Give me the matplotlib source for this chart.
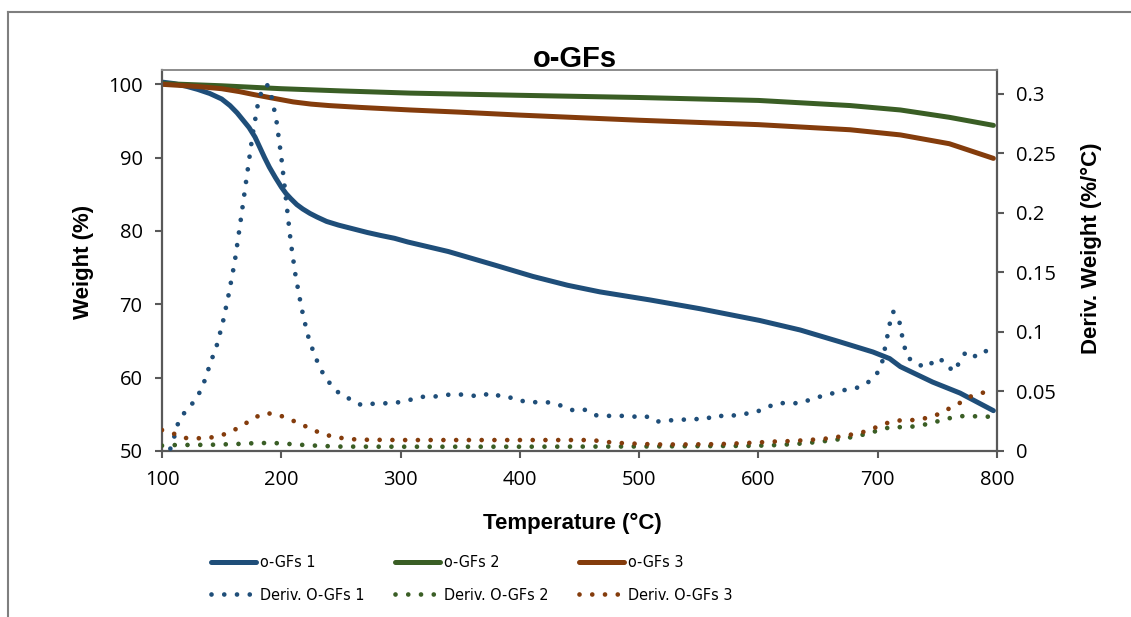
import matplotlib
matplotlib.use("Agg")
import matplotlib.pyplot as plt
from matplotlib.lines import Line2D
from matplotlib.ticker import FuncFormatter
import matplotlib.font_manager as fm

# ---------------- data ----------------
title = "o-GFs"
x_label = "Temperature (°C)"
y_label = "Weight (%)"
y2_label = "Deriv. Weight (%/°C)"

x_ticks = [100, 200, 300, 400, 500, 600, 700, 800]
y_ticks = [50, 60, 70, 80, 90, 100]
y2_ticks = [0, 0.05, 0.1, 0.15, 0.2, 0.25, 0.3]

# Weight curves
t_w1 = [100, 110, 120, 130, 140, 150, 157, 163, 168, 173, 178, 182, 186, 190, 195, 200, 204, 208,
        213, 218, 224, 230, 238, 248, 260, 272, 283, 295, 306, 340, 380, 411, 440, 467, 509, 551,
        601, 635, 668, 696, 710, 719, 746, 769, 797]
w1 = [100.3, 100.1, 99.75, 99.3, 98.75, 98.0, 97.1, 96.1, 95.1, 94.1, 92.8, 91.4, 90.0, 88.7, 87.3,
      86.0, 85.1, 84.4, 83.6, 83.0, 82.4, 81.9, 81.3, 80.8, 80.3, 79.8, 79.4, 79.0, 78.5, 77.2,
      75.3, 73.8, 72.6, 71.7, 70.6, 69.4, 67.8, 66.5, 64.9, 63.5, 62.6, 61.5, 59.4, 57.9, 55.5]

t_w2 = [100, 150, 200, 250, 308, 400, 500, 600, 677, 719, 760, 797]
w2 = [100.1, 99.8, 99.4, 99.1, 98.8, 98.5, 98.2, 97.8, 97.1, 96.5, 95.5, 94.4]

t_w3 = [100, 130, 150, 165, 177, 190, 200, 210, 225, 240, 266, 308, 350, 400, 500, 600, 677, 719,
        760, 797]
w3 = [100.0, 99.7, 99.4, 99.0, 98.6, 98.2, 97.9, 97.6, 97.3, 97.1, 96.85, 96.5, 96.2, 95.8, 95.1,
      94.5, 93.8, 93.1, 91.9, 89.9]

# Derivative curves
t_d1 = [107, 110, 113, 117, 124, 130, 135, 141, 146, 151, 156, 161, 166, 171, 176, 181, 184, 188,
        192, 196, 200, 204, 208, 212, 217, 222, 228, 235, 242, 250, 258, 267, 277, 286, 296, 307,
        317, 327, 337, 347, 357, 367, 376, 386, 395, 405, 415, 425, 435, 445, 455, 464, 474, 484,
        495, 505, 514, 524, 534, 544, 555, 564, 574, 585, 595, 604, 614, 624, 634, 644, 654, 664,
        674, 684, 693, 700, 704, 706, 708, 710, 713, 718, 720, 722, 725, 733, 742, 749, 757, 763,
        769, 774, 783, 792]
d1 = [0.002, 0.011, 0.022, 0.030, 0.038, 0.046, 0.057, 0.075, 0.089, 0.108, 0.132, 0.159, 0.194,
      0.230, 0.266, 0.295, 0.303, 0.308, 0.297, 0.277, 0.247, 0.211, 0.175, 0.147, 0.120, 0.098,
      0.080, 0.065, 0.055, 0.047, 0.0435, 0.0386, 0.0397, 0.040, 0.0405, 0.0427,
      0.0455, 0.0455, 0.047, 0.0478, 0.0467, 0.046, 0.0489, 0.045, 0.0447, 0.041, 0.041, 0.0408,
      0.038, 0.034, 0.0346, 0.030, 0.0295, 0.0296, 0.0288, 0.0296, 0.0246, 0.0257, 0.026, 0.027,
      0.0265, 0.030, 0.0288, 0.031, 0.0318, 0.035, 0.0397, 0.0405, 0.040, 0.0433, 0.0464, 0.0489,
      0.0517, 0.0534, 0.0584, 0.066, 0.0757, 0.086, 0.096, 0.1065, 0.117, 0.1095, 0.099, 0.089,
      0.0788, 0.0727, 0.0704, 0.078, 0.0749, 0.0665, 0.0749, 0.0836, 0.079, 0.0847]

t_d2 = [100, 110, 140, 163, 173, 183, 194, 204, 215, 225, 235, 250, 300, 400, 500, 570, 590, 610,
        620, 631, 641, 651, 662, 672, 682, 692, 703, 712, 723, 733, 743, 753, 764, 774, 784, 794]
d2 = [0.0045, 0.005, 0.0052, 0.0059, 0.0064, 0.0067, 0.0067, 0.0061, 0.0053, 0.0047, 0.0042, 0.0037,
      0.0036, 0.0036, 0.0038, 0.0042, 0.0043, 0.0047, 0.0053, 0.0059, 0.0067, 0.0078, 0.009, 0.0106,
      0.0123, 0.0148, 0.018, 0.0204, 0.0198, 0.021, 0.0229, 0.0257, 0.0285, 0.0296, 0.029, 0.0288]

t_d3 = [100, 110, 118, 128, 139, 149, 159, 168, 177, 186, 196, 206, 216, 225, 235, 245, 255, 265,
        300, 350, 400, 460, 474, 484, 500, 515, 540, 560, 578, 588, 598, 609, 619, 630, 640, 651,
        661, 671, 682, 692, 701, 711, 721, 731, 742, 752, 761, 770, 779, 789]
d3 = [0.0176, 0.0145, 0.011, 0.0106, 0.011, 0.0128, 0.0168, 0.0218, 0.0277, 0.0318, 0.031, 0.027,
      0.0229, 0.0184, 0.0142, 0.0117, 0.0103, 0.0095, 0.0092, 0.0092, 0.0092, 0.0092, 0.0075, 0.0067,
      0.006, 0.0055, 0.0055, 0.0057, 0.0061, 0.0067, 0.007, 0.0078, 0.0081, 0.0084, 0.0092, 0.0098,
      0.0109, 0.0126, 0.0145, 0.017, 0.021, 0.0246, 0.026, 0.026, 0.0279, 0.0313, 0.0363, 0.041,
      0.0464, 0.0492]

labels_w = ["o-GFs 1", "o-GFs 2", "o-GFs 3"]
labels_d = ["Deriv. O-GFs 1", "Deriv. O-GFs 2", "Deriv. O-GFs 3"]
colors = ["#1F4E79", "#3A5E25", "#843C0C"]

# ---------------- style ----------------
avail = {f.name for f in fm.fontManager.ttflist}
tick_font = "Open Sans" if "Open Sans" in avail else "DejaVu Sans"
bold_font = "Liberation Sans" if "Liberation Sans" in avail else "DejaVu Sans"

# look for a condensed / narrow regular face for the legend
leg_prop = None
for f in fm.fontManager.ttflist:
    nm = f.name.lower()
    if ("narrow" in nm or "condensed" in nm or str(f.stretch) in ("condensed", "semi-condensed")) \
            and f.style == "normal" and f.weight in (400, "normal", "regular"):
        leg_prop = fm.FontProperties(fname=f.fname, size=11.5)
        break
if leg_prop is None:
    leg_prop = fm.FontProperties(family=bold_font, size=11)

W, H = 1131, 617
fig = plt.figure(figsize=(W / 100, H / 100), dpi=100)
L, R, T, B = 162, 997, 70, 451
ax = fig.add_axes([L / W, 1 - B / H, (R - L) / W, (B - T) / H])
ax2 = ax.twinx()

spine_col = "#595959"
solid_lw = 3.6
dot_lw = 3.4
dot_style = (0, (0.001, 2.7))

for t, w, c, lab in zip([t_w1, t_w2, t_w3], [w1, w2, w3], colors, labels_w):
    ax.plot(t, w, color=c, lw=solid_lw, solid_capstyle="round", solid_joinstyle="round", label=lab)

for t, d, c, lab in zip([t_d1, t_d2, t_d3], [d1, d2, d3], colors, labels_d):
    ax2.plot(t, d, color=c, lw=dot_lw, linestyle=dot_style, dash_capstyle="round", label=lab)

ax.set_xlim(100, 800)
ax.set_ylim(50, 101.95)
ax2.set_ylim(0, 0.32)

ax.set_xticks(x_ticks)
ax.set_yticks(y_ticks)
ax2.set_yticks(y2_ticks)
ax2.yaxis.set_major_formatter(FuncFormatter(lambda v, p: f"{v:g}"))

for a in (ax, ax2):
    a.tick_params(direction="out", length=5, width=1.5, color=spine_col,
                  labelsize=14.5, pad=9)
    for lbl in a.get_xticklabels() + a.get_yticklabels():
        lbl.set_fontfamily(tick_font)
    for s in a.spines.values():
        s.set_color(spine_col)
        s.set_linewidth(1.6)
    a.spines["top"].set_color("#8C8C8C")
    a.spines["top"].set_linewidth(1.2)

ax.spines["right"].set_visible(False)
ax2.spines["left"].set_visible(False)
ax2.spines["bottom"].set_visible(False)

ax.set_xlabel(x_label, fontsize=16, fontweight="bold", family=bold_font)
ax.set_ylabel(y_label, fontsize=16, fontweight="bold", family=bold_font)
ax2.set_ylabel(y2_label, fontsize=16, fontweight="bold", family=bold_font)
ax.xaxis.set_label_coords(0.492, -0.162)
ax.yaxis.set_label_coords(-0.082, 0.497)
ax2.yaxis.set_label_coords(1.101, 0.533)

fig.text(575 / W, 1 - 59 / H, title, ha="center", va="center", fontsize=21,
         fontweight="bold", family=bold_font)

# legend: one two-row block per sample, placed at the reference columns
hw, lw_ = ax.get_legend_handles_labels()
hd, ld = ax2.get_legend_handles_labels()
col_x = [211, 395, 579]
for i in range(3):
    fig.legend([hw[i], hd[i]], [lw_[i], ld[i]], ncol=1, loc="center left",
               bbox_to_anchor=(col_x[i] / W, 1 - 579 / H), frameon=False,
               prop=leg_prop, handlelength=2.8, handletextpad=0.25,
               labelspacing=1.07, borderaxespad=0, borderpad=0)

# outer frame (top and left visible in reference)
fig.add_artist(Line2D([8 / W, 8 / W], [0, 1 - 12 / H], transform=fig.transFigure,
                      color="#7F7F7F", lw=1.5))
fig.add_artist(Line2D([8 / W, 1], [1 - 12 / H, 1 - 12 / H], transform=fig.transFigure,
                      color="#7F7F7F", lw=1.5))

fig.savefig("out.png", dpi=100)
